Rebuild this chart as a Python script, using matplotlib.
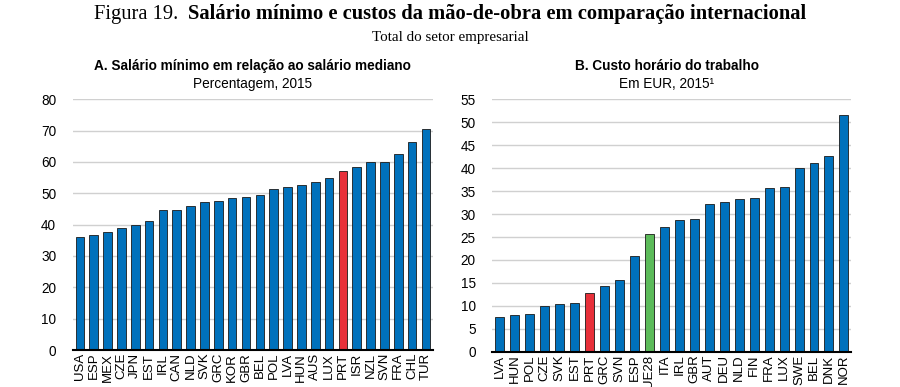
import numpy as np
import matplotlib
matplotlib.use("Agg")
import matplotlib.pyplot as plt

plt.rcParams['font.family'] = ['Liberation Sans', 'DejaVu Sans']

# Panel A: salario minimo / salario mediano (%)
paises_a = ['USA', 'ESP', 'MEX', 'CZE', 'JPN', 'EST', 'IRL', 'CAN', 'NLD', 'SVK', 'GRC', 'KOR', 'GBR',
            'BEL', 'POL', 'LVA', 'HUN', 'AUS', 'LUX', 'PRT', 'ISR', 'NZL', 'SVN', 'FRA', 'CHL', 'TUR']
valores_a = [36.0, 36.8, 37.6, 38.8, 40.0, 41.3, 44.6, 44.6, 46.0, 47.3, 47.5, 48.5, 48.7,
             49.3, 51.4, 51.9, 52.6, 53.6, 54.9, 57.0, 58.3, 60.0, 60.0, 62.4, 66.4, 70.4]

# Panel B: custo horario do trabalho (EUR)
paises_b = ['LVA', 'HUN', 'POL', 'CZE', 'SVK', 'EST', 'PRT', 'GRC', 'SVN', 'ESP', 'UE28', 'ITA',
            'IRL', 'GBR', 'AUT', 'DEU', 'NLD', 'FIN', 'FRA', 'LUX', 'SWE', 'BEL', 'DNK', 'NOR']
valores_b = [7.5, 8.0, 8.3, 10.0, 10.3, 10.6, 12.8, 14.3, 15.6, 20.9, 25.6, 27.2,
             28.6, 29.0, 32.3, 32.6, 33.2, 33.5, 35.7, 36.0, 40.1, 41.1, 42.7, 51.7]

azul = '#0071bc'
vermelho = '#e8303a'
verde = '#5cbb5a'

def cores(paises):
    c = []
    for p in paises:
        if p == 'PRT':
            c.append(vermelho)
        elif p == 'UE28':
            c.append(verde)
        else:
            c.append(azul)
    return c

def painel(ax, paises, valores, ymax, passo, largura):
    x = np.arange(len(paises))
    ax.bar(x, valores, width=largura, color=cores(paises), edgecolor='#1a1a1a', linewidth=0.6, zorder=3)
    ax.set_xlim(-0.5, len(paises) - 0.5)
    ax.set_ylim(0, ymax)
    ax.set_yticks(np.arange(0, ymax + 1, passo))
    ax.set_xticks(x)
    ax.set_xticklabels(paises, rotation=90, fontsize=9.5)
    ax.tick_params(axis='y', labelsize=9.8, length=0, pad=12)
    ax.tick_params(axis='x', length=0, pad=2)
    ax.grid(axis='y', color='#d0d0d0', linewidth=1.0, zorder=0)
    for s in ['top', 'right', 'left']:
        ax.spines[s].set_visible(False)
    ax.spines['bottom'].set_linewidth(1.5)
    ax.spines['bottom'].set_zorder(4)

fig = plt.figure(figsize=(9, 3.87), dpi=100)
ax1 = fig.add_axes([0.081, 0.0956, 0.400, 0.648])
ax2 = fig.add_axes([0.547, 0.0912, 0.399, 0.652])

painel(ax1, paises_a, valores_a, 80, 10, 0.62)
painel(ax2, paises_b, valores_b, 55, 5, 0.6)

# titulo em duas partes (normal + negrito), centrado no conjunto
serif = ['Liberation Serif', 'DejaVu Serif']
t1 = fig.text(0, 0.963, 'Figura 19.  ', family=serif, fontsize=14.8, ha='left', va='center')
t2 = fig.text(0, 0.963, 'Salário mínimo e custos da mão-de-obra em comparação internacional',
              family=serif, fontsize=14.8, fontweight='bold', ha='left', va='center')
r = fig.canvas.get_renderer()
w1 = t1.get_window_extent(r).width / fig.bbox.width
w2 = t2.get_window_extent(r).width / fig.bbox.width
x0 = 0.5 - (w1 + w2) / 2
t1.set_x(x0)
t2.set_x(x0 + w1)
fig.text(0.5, 0.902, 'Total do setor empresarial', family=serif, fontsize=10.8, ha='center', va='center')

fig.text(0.281, 0.829, 'A. Salário mínimo em relação ao salário mediano', fontsize=9.8,
         fontweight='bold', ha='center', va='center')
fig.text(0.281, 0.783, 'Percentagem, 2015', fontsize=9.8, ha='center', va='center')
fig.text(0.741, 0.829, 'B. Custo horário do trabalho', fontsize=9.8,
         fontweight='bold', ha='center', va='center')
fig.text(0.741, 0.783, 'Em EUR, 2015¹', fontsize=9.8, ha='center', va='center')

fig.savefig('out.png', dpi=100)
